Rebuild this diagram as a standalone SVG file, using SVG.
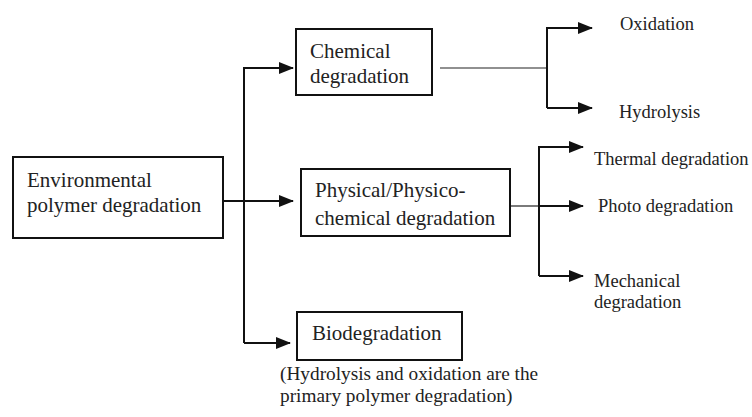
<svg xmlns="http://www.w3.org/2000/svg" width="752" height="417" viewBox="0 0 752 417">
<style>
.box{fill:#fff;stroke:#111;stroke-width:2}
text{font-family:'Liberation Serif','Times New Roman',serif;fill:#222}
.big{font-size:21px}
.sm{font-size:18.5px}
.cap{font-size:19.3px}
.ln{fill:none;stroke:#111;stroke-width:2}
.thin{fill:none;stroke:#222;stroke-width:1.2}
</style>
<defs>
<marker id="ah" markerUnits="userSpaceOnUse" markerWidth="15" markerHeight="12" refX="14" refY="6" orient="auto">
<path d="M0,0 L15,6 L0,12 Z" fill="#111"/>
</marker>
</defs>
<rect width="752" height="417" fill="#fff"/>
<g id="connectors">
<path class="ln" d="M223,201 H293" marker-end="url(#ah)"/>
<path class="ln" d="M244,343 V68 H293" marker-end="url(#ah)"/>
<path class="ln" d="M244,343 H290" marker-end="url(#ah)"/>
<path class="thin" d="M440,68 H547"/>
<path class="ln" d="M547,108 V28 H592" marker-end="url(#ah)"/>
<path class="ln" d="M547,108 H592" marker-end="url(#ah)"/>
<path class="thin" d="M510,206 H540"/>
<path class="ln" d="M539,276 V147 H583" marker-end="url(#ah)"/>
<path class="ln" d="M539,206 H583" marker-end="url(#ah)"/>
<path class="ln" d="M539,276 H583" marker-end="url(#ah)"/>
</g>
<g id="env">
<rect class="box" x="13" y="157" width="210" height="81"/>
<text class="big" x="27" y="187">Environmental</text>
<text class="big" x="27" y="212">polymer degradation</text>
</g>
<g id="chemical">
<rect class="box" x="296" y="29" width="136" height="66"/>
<text class="big" x="310" y="58">Chemical</text>
<text class="big" x="310" y="83">degradation</text>
</g>
<g id="physical">
<rect class="box" x="301" y="169" width="209" height="67"/>
<text class="big" x="315" y="197">Physical/Physico-</text>
<text class="big" x="315" y="225">chemical degradation</text>
</g>
<g id="bio">
<rect class="box" x="297" y="312" width="165" height="48"/>
<text class="big" x="312" y="340">Biodegradation</text>
</g>
<g id="caption">
<text class="cap" x="280" y="380">(Hydrolysis and oxidation are the</text>
<text class="cap" x="280" y="402">primary polymer degradation)</text>
</g>
<g id="oxidation"><text class="sm" x="620" y="30">Oxidation</text></g>
<g id="hydrolysis"><text class="sm" x="619" y="118">Hydrolysis</text></g>
<g id="thermal"><text class="sm" x="594" y="165">Thermal degradation</text></g>
<g id="photo"><text class="sm" x="598" y="212">Photo degradation</text></g>
<g id="mechanical">
<text class="sm" x="594" y="287">Mechanical</text>
<text class="sm" x="594" y="308">degradation</text>
</g>
</svg>
